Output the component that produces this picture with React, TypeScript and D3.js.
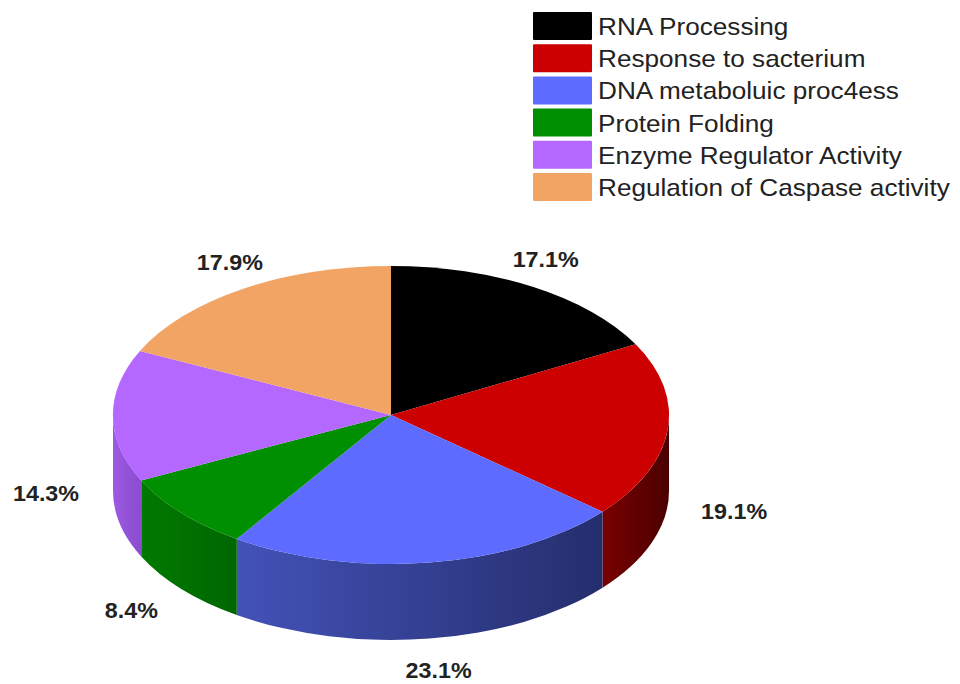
import React from "react";
import * as d3 from "d3";

const categories = [
  "RNA Processing",
  "Response to sacterium",
  "DNA metaboluic proc4ess",
  "Protein Folding",
  "Enzyme Regulator Activity",
  "Regulation of Caspase activity",
];
const values = [17.1, 19.1, 23.1, 8.4, 14.3, 17.9];
const topColors = ["#000000", "#cc0000", "#5d6bff", "#008f00", "#b468ff", "#f2a465"];
const sideLight = ["#000000", "#7a0000", "#4352b8", "#007a00", "#9c5ae0", "#d08850"];
const sideDark = ["#000000", "#4a0000", "#252e6c", "#006600", "#8a4cd0", "#b87440"];

const W = 960;
const H = 684;
const cx = 391;
const cy = 415;
const rx = 278;
const ry = 149;
const depth = 76;

export default function App() {
  const pie = d3.pie<number>().sort(null).value((d) => d)(values);
  const unitArc = d3.arc<d3.PieArcDatum<number>>().innerRadius(0).outerRadius(1);

  const pt = (a: number, dy = 0) => [cx + rx * Math.sin(a), cy - ry * Math.cos(a) + dy];

  const sides = pie
    .map((s, i) => {
      const a1 = Math.max(s.startAngle, Math.PI / 2);
      const a2 = Math.min(s.endAngle, (3 * Math.PI) / 2);
      if (a2 <= a1) return null;
      const [x1, y1] = pt(a1);
      const [x2, y2] = pt(a2);
      const d = `M${x1},${y1} A${rx},${ry} 0 0 1 ${x2},${y2} L${x2},${y2 + depth} A${rx},${ry} 0 0 0 ${x1},${y1 + depth} Z`;
      return { d, i, xa: Math.min(x1, x2), xb: Math.max(x1, x2) };
    })
    .filter(Boolean) as { d: string; i: number; xa: number; xb: number }[];

  const labelRy = 180;

  return (
    <svg
      width={W}
      height={H}
      style={{ position: "absolute", left: 0, top: 0, display: "block", background: "#fff" }}
      fontFamily="'Liberation Sans', Arial, sans-serif"
    >
      <defs>
        {sides.map((s) => (
          <linearGradient
            key={s.i}
            id={`side${s.i}`}
            gradientUnits="userSpaceOnUse"
            x1={s.xa}
            x2={s.xb}
            y1={0}
            y2={0}
          >
            <stop offset="0%" stopColor={sideLight[s.i]} />
            <stop offset="100%" stopColor={sideDark[s.i]} />
          </linearGradient>
        ))}
      </defs>

      {sides.map((s) => (
        <path key={`s${s.i}`} d={s.d} fill={`url(#side${s.i})`} />
      ))}

      <g transform={`translate(${cx},${cy}) scale(${rx},${ry})`}>
        {pie.map((s, i) => (
          <path key={i} d={unitArc(s) || ""} fill={topColors[i]} />
        ))}
      </g>

      {pie.map((s, i) => {
        const mid = (s.startAngle + s.endAngle) / 2;
        const c = Math.cos(mid);
        const labelRx = c > 0 ? 302 : 345;
        const x = cx + labelRx * Math.sin(mid);
        const y = cy + (c < 0 ? depth + 2 : 0) - labelRy * c + 7;
        return (
          <text
            key={`l${i}`}
            transform={`translate(${x},${y}) scale(1.06,1)`}
            textAnchor="middle"
            fontSize={22}
            fontWeight="bold"
            fill="#222"
          >
            {values[i].toFixed(1)}%
          </text>
        );
      })}

      <g>
        {categories.map((c, i) => (
          <g key={c} transform={`translate(533, ${12 + i * 32.2})`}>
            <rect x={0} y={0} width={59} height={28} fill={topColors[i]} rx={1} />
            <text transform="translate(65,23) scale(1.09,1)" fontSize={24} fill="#222">
              {c}
            </text>
          </g>
        ))}
      </g>
    </svg>
  );
}
